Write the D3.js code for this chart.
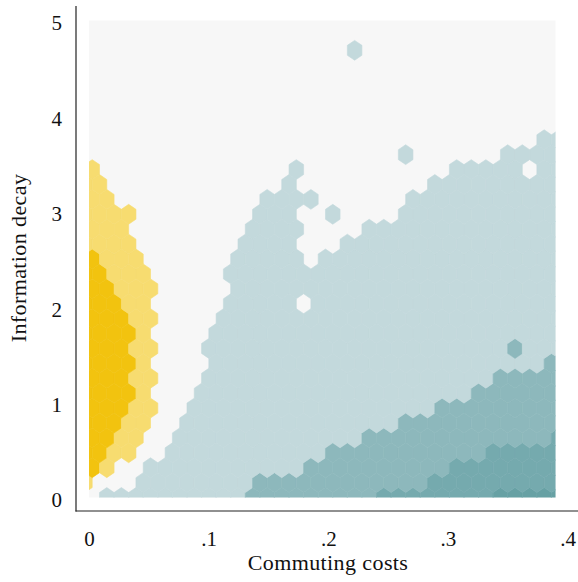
<!DOCTYPE html>
<html>
<head>
<meta charset="utf-8">
<script src="https://cdn.jsdelivr.net/npm/d3@7"></script>
<style>
  body { margin: 0; background: #fff; }
  text { font-family: "Liberation Serif", "DejaVu Serif", serif; fill: #111; }
</style>
</head>
<body>
<div id="chart"></div>
<script>
// Hexbin density of equilibria: commuting costs vs information decay

// Axis ticks
const xTicks = [0, 0.1, 0.2, 0.3, 0.4];
const xTickLabels = ["0", ".1", ".2", ".3", ".4"];
const yTicks = [0, 1, 2, 3, 4, 5];

// Bin grid: 32 x 32 bins over the data range
const xRange = [0, 0.39];
const yRange = [0, 5];
const nBins = 32;

// Cell codes, row 0 = bottom. Even rows: index k is column k,
// odd rows: index k is column k-1 (shifted half a bin).
// . empty, L/D yellow light/dark, a/b/c/d teal light..darkest
const hexRows = [
  ".aaaaaaaaaabbbbbbbbbccccccccddddd",
  "L...aaaaaaaabbbbbbbbbbbbccccccccc",
  "DL..aaaaaaaaaaabbbbbbbbbbcccccccc",
  "DDLL..aaaaaaaaaaabbbbbbbbbbbccccc",
  "DDLL..aaaaaaaaaaaaabbbbbbbbbbbbbc",
  "DDDLL..aaaaaaaaaaaaaaabbbbbbbbbbb",
  "DDDLL..aaaaaaaaaaaaaaaaabbbbbbbbb",
  "DDDDL...aaaaaaaaaaaaaaaaaaabbbbbb",
  "DDDLL...aaaaaaaaaaaaaaaaaaaabbbbb",
  "DDDDL....aaaaaaaaaaaaaaaaaaaaaaab",
  "DDDLL...aaaaaaaaaaaaaaaaaaaaabaaa",
  "DDDDL....aaaaaaaaaaaaaaaaaaaaaaaa",
  "DDDLL....aaaaaaaaaaaaaaaaaaaaaaaa",
  "DDDLL.....aaaaa.aaaaaaaaaaaaaaaaa",
  "DDLLL.....aaaaaaaaaaaaaaaaaaaaaaa",
  "DDLLL.....aaaaaaaaaaaaaaaaaaaaaaa",
  "DLLL......aaaaa.aaaaaaaaaaaaaaaaa",
  "LLLL.......aaaa...aaaaaaaaaaaaaaa",
  "LLL........aaaa....aaaaaaaaaaaaaa",
  "LLLL........aaa..a....aaaaaaaaaaa",
  "LL..........aaaa......aaaaaaaaaaa",
  "LL............a.........aaaaaaaaa",
  "L.............a..........aaaaa.aa",
  "......................a......aaaa",
  "...............................aa",
  ".................................",
  ".................................",
  ".................................",
  ".................................",
  ".................................",
  "..................a..............",
  ".................................",
  "................................."
];

const fills = {
  L: "#f7dc70", D: "#f2c30f",
  a: "#c3d9dc", b: "#8db8bc", c: "#75aaae", d: "#67a1a4"
};

const width = 578, height = 582;

const svg = d3.select("#chart")
  .append("svg")
  .attr("width", width)
  .attr("height", height);

const x = d3.scaleLinear().domain([0, 0.4]).range([89, 567.5]);
const y = d3.scaleLinear().domain([0, 5]).range([497.5, 20.5]);

const hx = (xRange[1] - xRange[0]) / nBins;   // column spacing
const hy = (yRange[1] - yRange[0]) / nBins;   // row spacing
const colShift = [0.22, -0.28];

// Plot background
svg.append("rect")
  .attr("x", x(xRange[0]))
  .attr("y", y(yRange[1]))
  .attr("width", x(xRange[1]) - x(xRange[0]))
  .attr("height", y(yRange[0]) - y(yRange[1]))
  .attr("fill", "#f7f7f7");

svg.append("clipPath")
  .attr("id", "plot-clip")
  .append("rect")
  .attr("x", x(xRange[0]))
  .attr("y", y(yRange[1]))
  .attr("width", x(xRange[1]) - x(xRange[0]))
  .attr("height", y(yRange[0]) - y(yRange[1]));

// Flatten the grid into cells
const cells = [];
hexRows.forEach((row, j) => {
  row.split("").forEach((code, k) => {
    if (code === ".") return;
    const cx = xRange[0] + (k + colShift[j % 2]) * hx;
    const cy = yRange[0] + j * hy;
    cells.push({cx, cy, code});
  });
});

const corners = [[0, 2 / 3], [0.5, 1 / 3], [0.5, -1 / 3], [0, -2 / 3], [-0.5, -1 / 3], [-0.5, 1 / 3]];
const hexPath = d => "M" + corners
  .map(([u, v]) => [x(d.cx + u * hx), y(d.cy + v * hy)].join(","))
  .join("L") + "Z";

svg.append("g")
  .attr("clip-path", "url(#plot-clip)")
  .selectAll("path")
  .data(cells)
  .join("path")
    .attr("d", hexPath)
    .attr("fill", d => fills[d.code])
    .attr("stroke", d => fills[d.code])
    .attr("stroke-width", 0.6);

// Axes
const xAxis = svg.append("g")
  .attr("transform", "translate(0,511)")
  .call(d3.axisBottom(x)
    .tickValues(xTicks)
    .tickSize(0)
    .tickPadding(20)
    .tickFormat((d, i) => xTickLabels[i]));
xAxis.select(".domain").remove();

const yAxis = svg.append("g")
  .attr("transform", "translate(76,0)")
  .call(d3.axisLeft(y)
    .tickValues(yTicks)
    .tickSize(0)
    .tickPadding(14)
    .tickFormat(d3.format("d")));
yAxis.select(".domain").remove();

svg.selectAll(".tick text")
  .attr("font-family", "Liberation Serif, serif")
  .attr("font-size", 21)
  .attr("fill", "#111");
yAxis.selectAll(".tick text").attr("dy", "0.45em");

svg.append("line")
  .attr("x1", 76).attr("x2", 76)
  .attr("y1", 6).attr("y2", 511.5)
  .attr("stroke", "#222").attr("stroke-width", 1.2);

svg.append("line")
  .attr("x1", 75.5).attr("x2", width)
  .attr("y1", 511).attr("y2", 511)
  .attr("stroke", "#222").attr("stroke-width", 1.2);

// Axis titles
svg.append("text")
  .attr("x", 328)
  .attr("y", 570)
  .attr("text-anchor", "middle")
  .attr("font-size", 22)
  .attr("letter-spacing", 0.4)
  .text("Commuting costs");

svg.append("text")
  .attr("transform", "translate(26,258) rotate(-90)")
  .attr("text-anchor", "middle")
  .attr("font-size", 22)
  .attr("letter-spacing", 0.4)
  .text("Information decay");
</script>
</body>
</html>
